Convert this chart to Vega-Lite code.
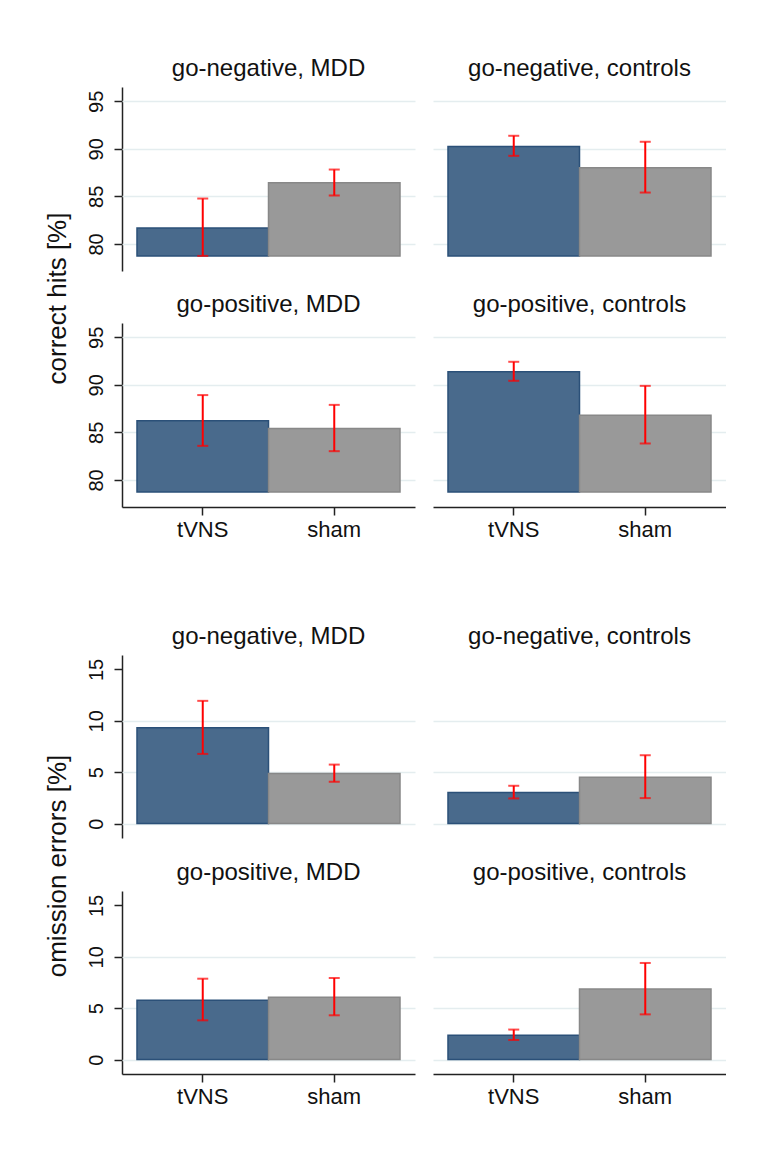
{
  "$schema": "https://vega.github.io/schema/vega-lite/v6.json",
  "background": "white",
  "padding": {"left": 44, "top": 57, "right": 0, "bottom": 0},
  "datasets": {
    "hits": [
      {"panel": "go-negative, MDD", "cond": "tVNS", "value": 81.68, "lo": 78.74, "hi": 84.77},
      {"panel": "go-negative, MDD", "cond": "sham", "value": 86.42, "lo": 85.09, "hi": 87.82},
      {"panel": "go-negative, controls", "cond": "tVNS", "value": 90.24, "lo": 89.26, "hi": 91.37},
      {"panel": "go-negative, controls", "cond": "sham", "value": 88.0, "lo": 85.4, "hi": 90.74},
      {"panel": "go-positive, MDD", "cond": "tVNS", "value": 86.21, "lo": 83.58, "hi": 88.92},
      {"panel": "go-positive, MDD", "cond": "sham", "value": 85.41, "lo": 83.02, "hi": 87.89},
      {"panel": "go-positive, controls", "cond": "tVNS", "value": 91.37, "lo": 90.42, "hi": 92.42},
      {"panel": "go-positive, controls", "cond": "sham", "value": 86.81, "lo": 83.83, "hi": 89.89}
    ],
    "errors": [
      {"panel": "go-negative, MDD", "cond": "tVNS", "value": 9.32, "lo": 6.78, "hi": 11.94},
      {"panel": "go-negative, MDD", "cond": "sham", "value": 4.87, "lo": 4.07, "hi": 5.74},
      {"panel": "go-negative, controls", "cond": "tVNS", "value": 3.03, "lo": 2.45, "hi": 3.68},
      {"panel": "go-negative, controls", "cond": "sham", "value": 4.52, "lo": 2.48, "hi": 6.65},
      {"panel": "go-positive, MDD", "cond": "tVNS", "value": 5.77, "lo": 3.82, "hi": 7.87},
      {"panel": "go-positive, MDD", "cond": "sham", "value": 6.06, "lo": 4.31, "hi": 7.94},
      {"panel": "go-positive, controls", "cond": "tVNS", "value": 2.36, "lo": 1.91, "hi": 2.92},
      {"panel": "go-positive, controls", "cond": "sham", "value": 6.87, "lo": 4.4, "hi": 9.4}
    ]
  },
  "vconcat": [
    {
      "data": {"name": "hits"},
      "title": {"text": "correct hits [%]", "orient": "left", "anchor": "middle", "fontSize": 26, "font": "Liberation Sans", "fontWeight": "normal", "color": "#111111", "offset": 15},
      "columns": 2,
      "spacing": {"column": 18, "row": 22},
      "facet": {
        "field": "panel", "type": "nominal", "title": null,
        "sort": ["go-negative, MDD", "go-negative, controls", "go-positive, MDD", "go-positive, controls"],
        "header": {"labelFontSize": 24, "labelFont": "Liberation Sans", "labelColor": "#111111", "labelPadding": -13, "labelBaseline": "alphabetic"}
      },
      "spec": {
        "width": 293,
        "height": 184,
        "encoding": {
          "x": {"field": "cond", "type": "nominal", "sort": ["tVNS", "sham"], "title": null,
            "scale": {"paddingInner": 0, "paddingOuter": 0.114},
            "axis": {"labelAngle": 0, "labelFontSize": 22, "labelFont": "Liberation Sans", "labelColor": "#111111", "labelPadding": 4, "tickSize": 8, "tickWidth": 1.5, "tickColor": "#222222", "domainColor": "#222222", "domainWidth": 1.5, "grid": false}}
        },
        "layer": [
          {
            "mark": {"type": "bar", "strokeWidth": 1.5},
            "encoding": {
              "y": {"field": "value", "type": "quantitative", "title": null,
                "scale": {"domain": [77.15, 96.5], "nice": false, "zero": false},
                "axis": {"values": [80, 85, 90, 95], "labelAngle": -90, "labelAlign": "center", "labelBaseline": "alphabetic", "labelFontSize": 20, "labelFont": "Liberation Sans", "labelColor": "#111111", "labelPadding": 12, "tickSize": 8, "tickWidth": 1.5, "tickColor": "#222222", "domainColor": "#222222", "domainWidth": 1.5, "gridColor": "#E4EDEF", "gridWidth": 1.5}},
              "y2": {"datum": 78.74},
              "color": {"field": "cond", "type": "nominal", "scale": {"domain": ["tVNS", "sham"], "range": ["#496A8C", "#999999"]}, "legend": null},
              "stroke": {"field": "cond", "type": "nominal", "scale": {"domain": ["tVNS", "sham"], "range": ["#2B5078", "#888888"]}, "legend": null}
            }
          },
          {
            "mark": {"type": "rule", "color": "#FF0000", "strokeWidth": 2},
            "encoding": {"y": {"field": "lo", "type": "quantitative"}, "y2": {"field": "hi"}}
          },
          {
            "mark": {"type": "tick", "color": "#FF0000", "thickness": 2, "size": 11},
            "encoding": {"y": {"field": "lo", "type": "quantitative"}}
          },
          {
            "mark": {"type": "tick", "color": "#FF0000", "thickness": 2, "size": 11},
            "encoding": {"y": {"field": "hi", "type": "quantitative"}}
          }
        ]
      }
    },
    {
      "data": {"name": "errors"},
      "title": {"text": "omission errors [%]", "orient": "left", "anchor": "middle", "fontSize": 26, "font": "Liberation Sans", "fontWeight": "normal", "color": "#111111", "offset": 15},
      "columns": 2,
      "spacing": {"column": 18, "row": 23},
      "facet": {
        "field": "panel", "type": "nominal", "title": null,
        "sort": ["go-negative, MDD", "go-negative, controls", "go-positive, MDD", "go-positive, controls"],
        "header": {"labelFontSize": 24, "labelFont": "Liberation Sans", "labelColor": "#111111", "labelPadding": -13, "labelBaseline": "alphabetic"}
      },
      "spec": {
        "width": 293,
        "height": 183,
        "encoding": {
          "x": {"field": "cond", "type": "nominal", "sort": ["tVNS", "sham"], "title": null,
            "scale": {"paddingInner": 0, "paddingOuter": 0.114},
            "axis": {"labelAngle": 0, "labelFontSize": 22, "labelFont": "Liberation Sans", "labelColor": "#111111", "labelPadding": 4, "tickSize": 8, "tickWidth": 1.5, "tickColor": "#222222", "domainColor": "#222222", "domainWidth": 1.5, "grid": false}}
        },
        "layer": [
          {
            "mark": {"type": "bar", "strokeWidth": 1.5},
            "encoding": {
              "y": {"field": "value", "type": "quantitative", "title": null,
                "scale": {"domain": [-1.4, 16.4], "nice": false, "zero": false},
                "axis": {"values": [0, 5, 10, 15], "labelAngle": -90, "labelAlign": "center", "labelBaseline": "alphabetic", "labelFontSize": 20, "labelFont": "Liberation Sans", "labelColor": "#111111", "labelPadding": 12, "tickSize": 8, "tickWidth": 1.5, "tickColor": "#222222", "domainColor": "#222222", "domainWidth": 1.5, "gridColor": "#E4EDEF", "gridWidth": 1.5,
                  "gridOpacity": {"condition": {"test": "datum.value >= 15", "value": 0}, "value": 1}}},
              "y2": {"datum": 0},
              "color": {"field": "cond", "type": "nominal", "scale": {"domain": ["tVNS", "sham"], "range": ["#496A8C", "#999999"]}, "legend": null},
              "stroke": {"field": "cond", "type": "nominal", "scale": {"domain": ["tVNS", "sham"], "range": ["#2B5078", "#888888"]}, "legend": null}
            }
          },
          {
            "mark": {"type": "rule", "color": "#FF0000", "strokeWidth": 2},
            "encoding": {"y": {"field": "lo", "type": "quantitative"}, "y2": {"field": "hi"}}
          },
          {
            "mark": {"type": "tick", "color": "#FF0000", "thickness": 2, "size": 11},
            "encoding": {"y": {"field": "lo", "type": "quantitative"}}
          },
          {
            "mark": {"type": "tick", "color": "#FF0000", "thickness": 2, "size": 11},
            "encoding": {"y": {"field": "hi", "type": "quantitative"}}
          }
        ]
      }
    }
  ],
  "spacing": 85,
  "config": {
    "view": {"stroke": null},
    "font": "Liberation Sans"
  }
}
